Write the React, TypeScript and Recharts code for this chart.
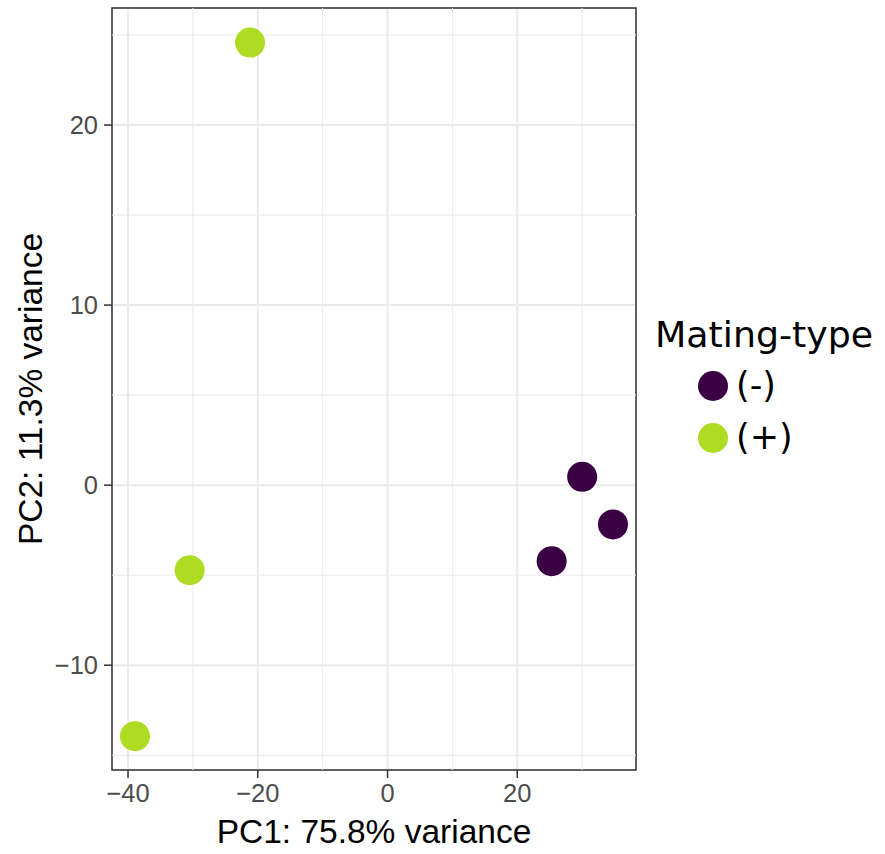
import { CartesianGrid, ReferenceArea, ReferenceLine, Scatter, ScatterChart, XAxis, YAxis } from "recharts";

const minusPC1 = [30.0, 34.75, 25.3];
const minusPC2 = [0.46, -2.18, -4.22];
const plusPC1 = [-21.19, -30.5, -38.93];
const plusPC2 = [24.58, -4.72, -13.94];

const xTicks = [-40, -20, 0, 20];
const yTicks = [-10, 0, 10, 20];
const xMinor = [-30, -10, 10, 30];
const yMinor = [-15, -5, 5, 15, 25];
const xDomain = [-42.47, 38.3];
const yDomain = [-15.82, 26.5];

const groups = ["(-)", "(+)"];
const colors = ["#3a0043", "#addc22"];

const minusData = minusPC1.map((x, i) => ({ x, y: minusPC2[i] }));
const plusData = plusPC1.map((x, i) => ({ x, y: plusPC2[i] }));

const fmt = (v: number) => (v < 0 ? "\u2212" + Math.abs(v) : String(v));
const tickStyle = { fontFamily: "'Liberation Sans', Arial, sans-serif", fontSize: 25.5, fill: "#4d4d4d" };
const titleFont = "'Liberation Sans', Arial, sans-serif";

const dot = (color: string) => (p: any) => <circle cx={p.cx} cy={p.cy} r={15} fill={color} />;

function LegendBox() {
  return (
    <svg width={235} height={170} style={{ position: "absolute", left: 650, top: 300 }}>
      <text x={5} y={47} fontFamily="'DejaVu Sans', sans-serif" fontSize={36.3} fill="#000">
        Mating-type
      </text>
      {groups.map((g, i) => (
        <g key={g}>
          <circle cx={63} cy={86 + i * 52} r={15} fill={colors[i]} />
          <text x={86} y={97 + i * 52} fontFamily="'DejaVu Sans', sans-serif" fontSize={35} fill="#000">
            {g}
          </text>
        </g>
      ))}
    </svg>
  );
}

export default function App() {
  return (
    <div style={{ position: "absolute", left: 0, top: 0, width: 885, height: 854, background: "#fff" }}>
      <ScatterChart width={885} height={854} margin={{ top: 8, right: 249, bottom: 0, left: 0 }}>
        <CartesianGrid stroke="#ebebeb" strokeWidth={2} />
        {xMinor.map((v) => (
          <ReferenceLine key={"x" + v} x={v} stroke="#ebebeb" strokeWidth={1} ifOverflow="hidden" />
        ))}
        {yMinor.map((v) => (
          <ReferenceLine key={"y" + v} y={v} stroke="#ebebeb" strokeWidth={1} ifOverflow="hidden" />
        ))}
        <XAxis
          type="number"
          dataKey="x"
          domain={xDomain}
          ticks={xTicks}
          allowDataOverflow
          height={84}
          axisLine={false}
          tickLine={{ stroke: "#333", strokeWidth: 1.5 }}
          tickSize={8}
          tickMargin={6}
          tick={tickStyle}
          tickFormatter={fmt}
          label={{
            content: (p: any) => (
              <text
                x={p.viewBox.x + p.viewBox.width / 2}
                y={p.viewBox.y + 73}
                textAnchor="middle"
                fontFamily={titleFont}
                fontSize={33.5}
                fill="#000"
              >
                PC1: 75.8% variance
              </text>
            ),
          }}
        />
        <YAxis
          type="number"
          dataKey="y"
          domain={yDomain}
          ticks={yTicks}
          allowDataOverflow
          width={112}
          axisLine={false}
          tickLine={{ stroke: "#333", strokeWidth: 1.5 }}
          tickSize={8}
          tickMargin={6}
          tick={tickStyle}
          tickFormatter={fmt}
          label={{
            content: (p: any) => {
              const cy = p.viewBox.y + p.viewBox.height / 2;
              return (
                <text
                  x={42}
                  y={cy}
                  transform={`rotate(-90 42 ${cy})`}
                  textAnchor="middle"
                  fontFamily={titleFont}
                  fontSize={33.5}
                  fill="#000"
                >
                  PC2: 11.3% variance
                </text>
              );
            },
          }}
        />
        <Scatter name="(-)" data={minusData} fill={colors[0]} shape={dot(colors[0])} isAnimationActive={false} />
        <Scatter name="(+)" data={plusData} fill={colors[1]} shape={dot(colors[1])} isAnimationActive={false} />
        <ReferenceArea
          x1={xDomain[0]}
          x2={xDomain[1]}
          y1={yDomain[0]}
          y2={yDomain[1]}
          fill="none"
          stroke="#333"
          strokeWidth={1.5}
          ifOverflow="visible"
        />
      </ScatterChart>
      <LegendBox />
    </div>
  );
}
